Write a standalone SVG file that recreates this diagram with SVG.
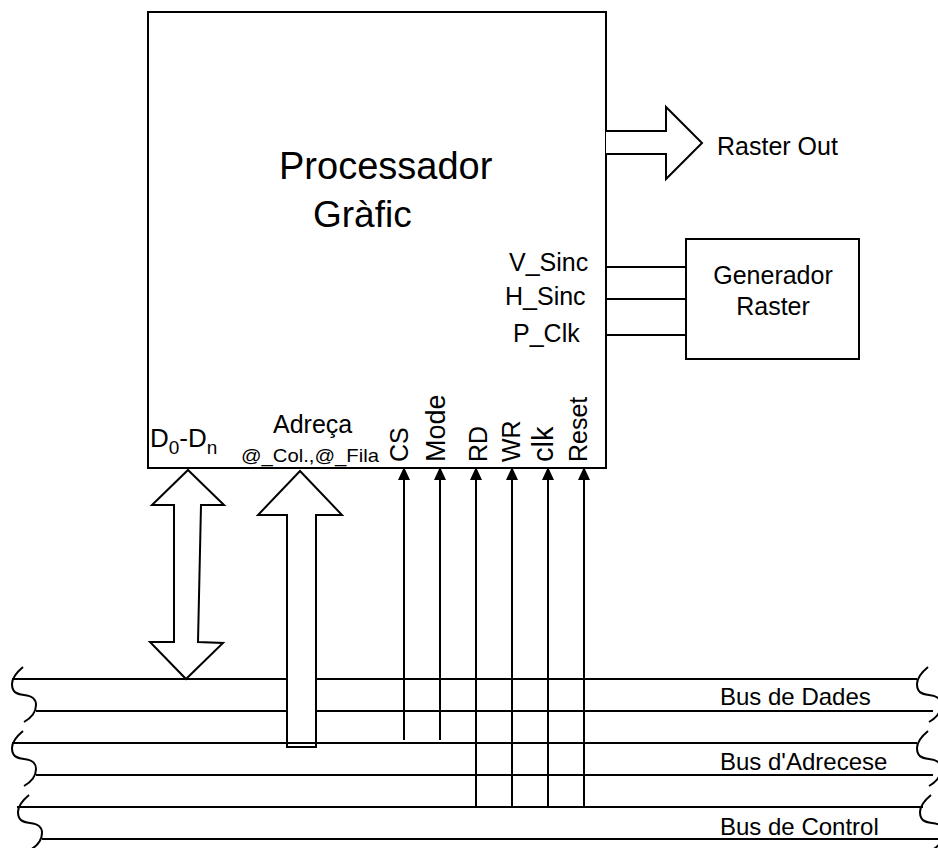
<svg xmlns="http://www.w3.org/2000/svg" width="938" height="848" viewBox="0 0 938 848">
<style>
text{font-family:"Liberation Sans",Arial,sans-serif;fill:#000}
.s{fill:none;stroke:#000;stroke-width:2}
.w{fill:#fff;stroke:#000;stroke-width:2;stroke-linejoin:miter}
.l{stroke:#000;stroke-width:2}
.t25{font-size:25px}
.t24{font-size:24px}
</style>
<defs>
<path id="sq" d="M23,667 C17,672 12,677 12,684 C12,692 16,694 24,695 C33,696 36,699 36,705 C36,713 31,718 24,722" fill="none" stroke="#000" stroke-width="2"/>
<path id="tri" d="M-6,480 L0,467 L6,480 Z" fill="#000"/>
</defs>
<g id="buses">
<line class="l" x1="12" y1="679" x2="917" y2="679"/>
<line class="l" x1="36" y1="711" x2="933" y2="711"/>
<line class="l" x1="36" y1="775" x2="933" y2="775"/>
<line class="l" x1="17" y1="807" x2="923" y2="807"/>
<line class="l" x1="42" y1="839" x2="938" y2="839"/>
<use href="#sq"/>
<use href="#sq" transform="translate(0,64)"/>
<use href="#sq" transform="translate(6,128)"/>
<use href="#sq" transform="translate(905,0)"/>
<use href="#sq" transform="translate(905,64)"/>
<use href="#sq" transform="translate(908,128)"/>
<text class="t24" x="720" y="705">Bus de Dades</text>
<text class="t24" x="720" y="770">Bus d'Adrecese</text>
<text class="t24" x="720" y="835">Bus de Control</text>
</g>
<g id="processador">
<rect class="s" x="148" y="12" width="458" height="456"/>
<text x="279" y="179" style="font-size:38px">Processador</text>
<text x="313" y="227" style="font-size:37px">Gràfic</text>
<text class="t25" x="509" y="271">V_Sinc</text>
<text class="t25" x="505" y="305">H_Sinc</text>
<text class="t25" x="513" y="342">P_Clk</text>
<text x="150" y="447" style="font-size:26px">D<tspan dy="7" style="font-size:19px">0</tspan><tspan dy="-7">-D</tspan><tspan dy="7" style="font-size:19px">n</tspan></text>
<text class="t25" x="273" y="433">Adreça</text>
<text x="241" y="462" style="font-size:19px" textLength="138" lengthAdjust="spacingAndGlyphs">@_Col.,@_Fila</text>
<text class="t25" transform="translate(408,462) rotate(-90)">CS</text>
<text transform="translate(445,462) rotate(-90)" style="font-size:27px">Mode</text>
<text class="t25" transform="translate(487,462) rotate(-90)">RD</text>
<text class="t25" transform="translate(520,462) rotate(-90)">WR</text>
<text transform="translate(553,462) rotate(-90)" style="font-size:29px">clk</text>
<text class="t25" transform="translate(587,462) rotate(-90)">Reset</text>
</g>
<g id="generador">
<rect class="s" x="686" y="239" width="173" height="120"/>
<text class="t25" x="773" y="284" text-anchor="middle">Generador</text>
<text class="t25" x="773" y="315" text-anchor="middle">Raster</text>
</g>
<g id="raster-out">
<polyline class="w" points="606,131 666,131 666,107 702,143 666,179 666,154 606,154"/>
<text class="t25" x="717" y="155">Raster Out</text>
</g>
<g id="connectors">
<line class="l" x1="606" y1="267" x2="686" y2="267"/>
<line class="l" x1="606" y1="299" x2="686" y2="299"/>
<line class="l" x1="606" y1="335" x2="686" y2="335"/>
<polygon class="w" points="188,470 224,505 201,505 198,642 223,643 186,679 150,642 174,642 174,505 152,505"/>
<polygon class="w" points="300,471 342,515 316,515 316,747 287,747 287,515 258,515"/>
<line class="l" x1="12" y1="743" x2="917" y2="743"/>
<line class="l" x1="404" y1="476" x2="404" y2="740"/>
<line class="l" x1="440" y1="476" x2="440" y2="740"/>
<line class="l" x1="476" y1="476" x2="476" y2="806"/>
<line class="l" x1="512" y1="476" x2="512" y2="806"/>
<line class="l" x1="548" y1="476" x2="548" y2="806"/>
<line class="l" x1="584" y1="476" x2="584" y2="806"/>
<use href="#tri" x="404"/>
<use href="#tri" x="440"/>
<use href="#tri" x="476"/>
<use href="#tri" x="512"/>
<use href="#tri" x="548"/>
<use href="#tri" x="584"/>
</g>
</svg>
